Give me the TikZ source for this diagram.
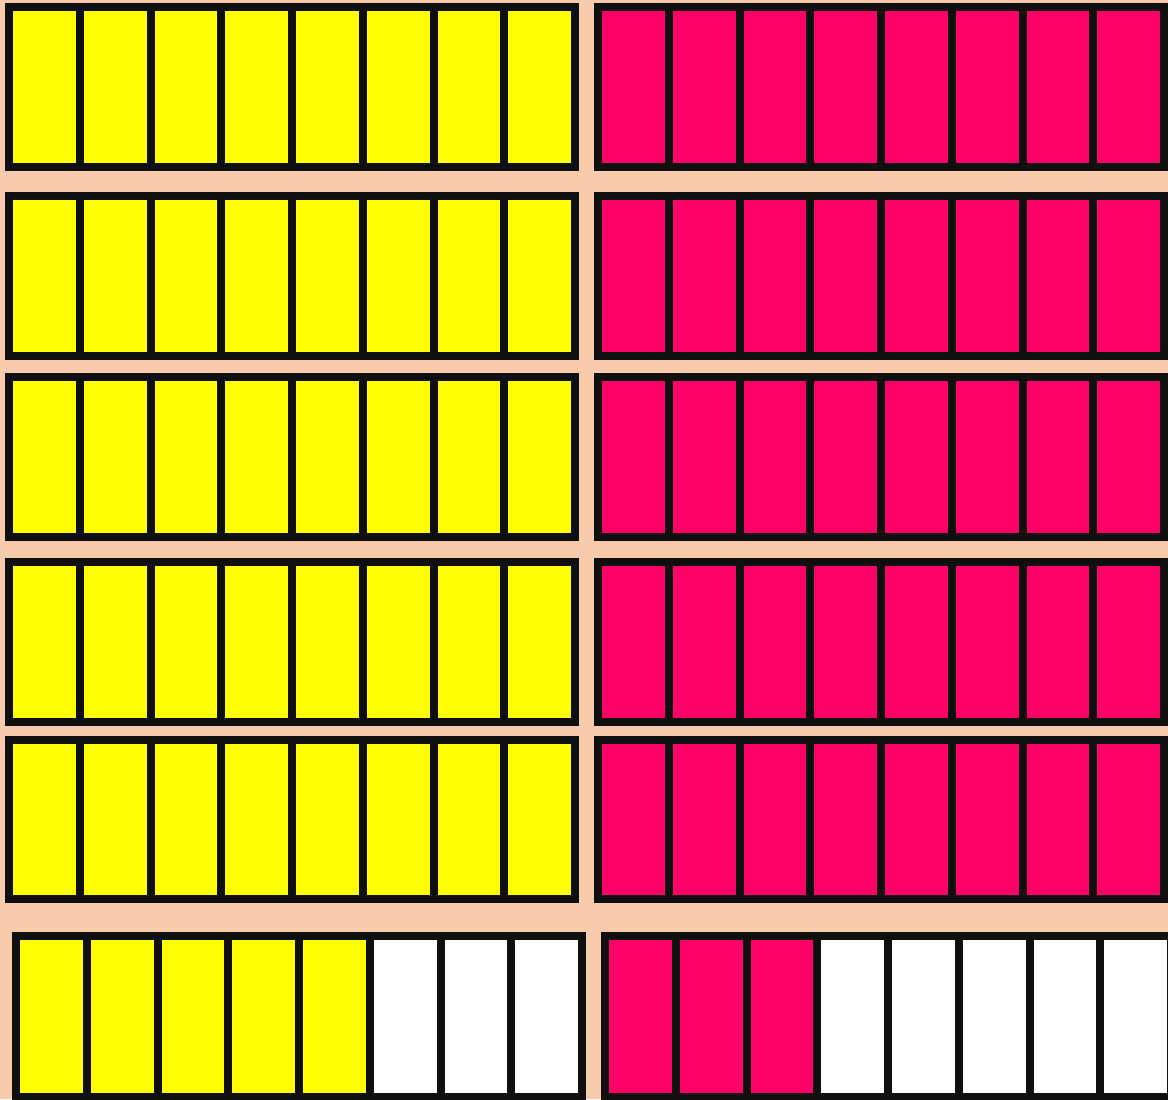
\documentclass[tikz,border=0pt]{standalone}
\definecolor{bgpeach}{HTML}{F8CBAD}
\definecolor{baryellow}{HTML}{FFFF00}
\definecolor{barpink}{HTML}{FF0066}
\definecolor{baredge}{HTML}{0F0F0F}

\begin{document}
\begin{tikzpicture}[x=0.025cm,y=-0.025cm]
\tikzset{
  yellowcell/.style={fill=baryellow,draw=baredge,line width=0.2cm},
  pinkcell/.style={fill=barpink,draw=baredge,line width=0.2cm},
  emptycell/.style={fill=white,draw=baredge,line width=0.2cm}
}
\useasboundingbox (0,0) rectangle (1168,1099);
\fill[bgpeach] (0,0) rectangle (1168,1099);
% five full rows
\foreach \rtop/\rbot in {7/167,196/356,377/537,562/722,740/899}{
  \foreach \i in {0,...,7}{
    \draw[yellowcell] ({9+70.75*\i},\rtop) rectangle ({9+70.75*(\i+1)},\rbot);
    \draw[pinkcell] ({598+70.75*\i},\rtop) rectangle ({598+70.75*(\i+1)},\rbot);
  }
}
% last row, partly filled
\foreach \i in {0,...,4}
  \draw[yellowcell] ({16+70.75*\i},936) rectangle ({16+70.75*(\i+1)},1097);
\foreach \i in {5,...,7}
  \draw[emptycell] ({16+70.75*\i},936) rectangle ({16+70.75*(\i+1)},1097);
\foreach \i in {0,...,2}
  \draw[pinkcell] ({605+70.75*\i},936) rectangle ({605+70.75*(\i+1)},1097);
\foreach \i in {3,...,7}
  \draw[emptycell] ({605+70.75*\i},936) rectangle ({605+70.75*(\i+1)},1097);
\end{tikzpicture}
\end{document}
